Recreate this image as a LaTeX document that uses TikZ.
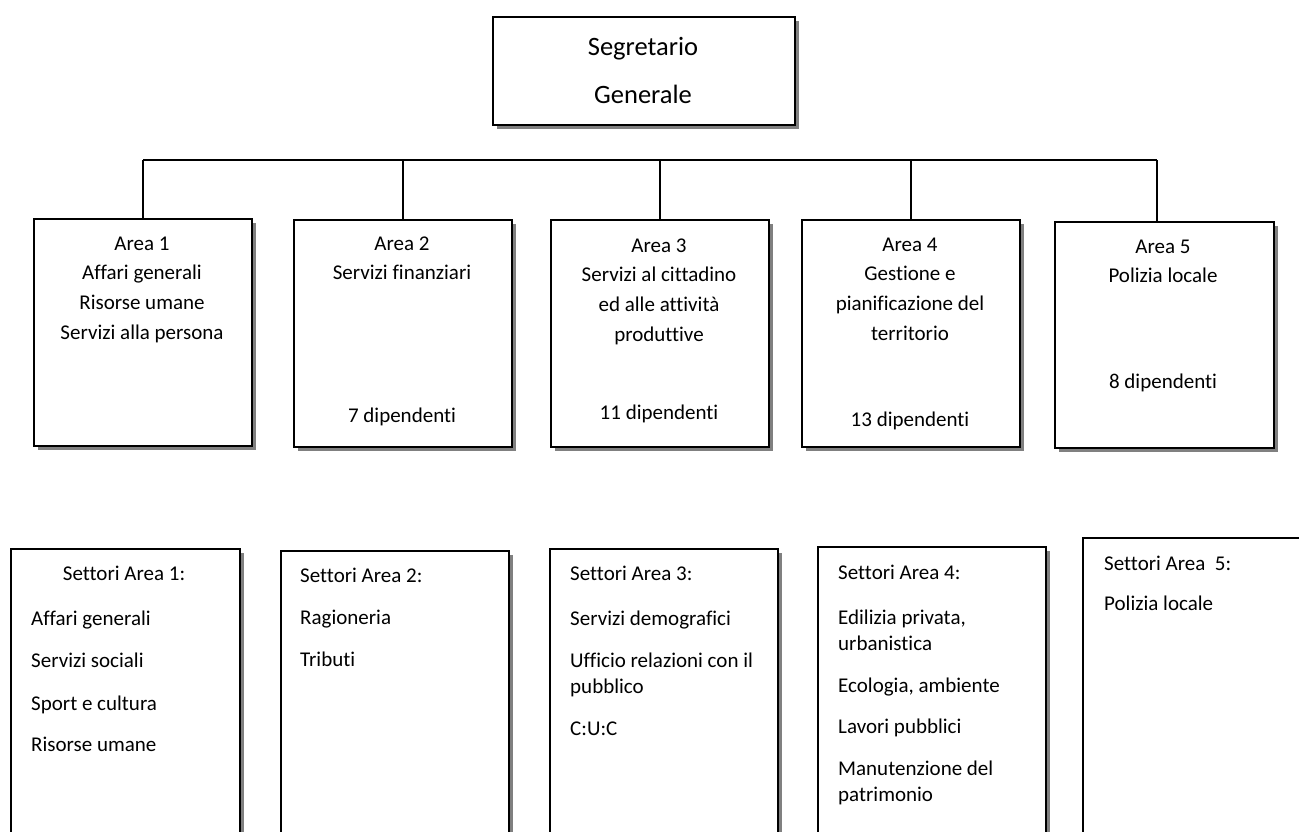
\documentclass[tikz,border=0pt]{standalone}
\usepackage{fontspec}
\setmainfont{Carlito}[Ligatures={NoCommon}]
\usetikzlibrary{shadows}
\newcommand{\flA}{\rule{0pt}{16pt}}
\newcommand{\flB}{\rule{0pt}{20pt}}
\begin{document}
\begin{tikzpicture}[x=1pt,y=-1pt,
  box/.style={draw=black, line width=1.8pt, fill=white, rectangle, inner sep=0pt,
    anchor=north west,
    drop shadow={shadow xshift=4pt, shadow yshift=-4pt, fill=black!50, opacity=1}},
  conn/.style={draw=black, line width=1.6pt},
  txt/.style={inner sep=0pt, font=\fontsize{21}{29.7}\selectfont},
  ctxt/.style={txt, align=center, anchor=north},
  ltxt/.style={inner sep=0pt, font=\fontsize{21}{26}\selectfont, align=left, anchor=north west},
  big/.style={inner sep=0pt, font=\fontsize{26.5}{48}\selectfont, align=center, anchor=north}]
\clip (0,0) rectangle (1299,831);
\fill[white] (0,0) rectangle (1299,831);

% top box
\node[box, minimum width=302pt, minimum height=108pt] (sg) at (492,16) {};
\node[big] (sgt) at (643,35) {\flB Segretario\\Generale};

% area boxes
\node[box, minimum width=218pt, minimum height=227pt] (a1) at (33,218) {};
\node[box, minimum width=218pt, minimum height=227pt] (a2) at (293,219) {};
\node[box, minimum width=218pt, minimum height=227pt] (a3) at (550,219) {};
\node[box, minimum width=218pt, minimum height=227pt] (a4) at (801,219) {};
\node[box, minimum width=219pt, minimum height=226pt] (a5) at (1054,221) {};

% connectors
\coordinate (barL) at (143,160);
\coordinate (barR) at (1157,160);
\coordinate (a1top) at (143,218);
\coordinate (a5top) at (1157,221);
\draw[conn] (barL) -- (barR);
\draw[conn] (a1top) -- (barL);
\draw[conn] (a2.north) -- (a2.north |- barL);
\draw[conn] (a3.north) -- (a3.north |- barL);
\draw[conn] (a4.north) -- (a4.north |- barL);
\draw[conn] (a5top) -- (barR);

% area texts
\node[ctxt] (a1t) at (142,234) {\flA Area 1\\Affari generali\\Risorse umane\\Servizi alla persona};
\node[ctxt] (a2t) at (402,234) {\flA Area 2\\Servizi finanziari};
\node[ctxt] (a2d) at (402,406) {\flA 7 dipendenti};
\node[ctxt] (a3t) at (659,236) {\flA Area 3\\Servizi al cittadino\\ed alle attività\\produttive};
\node[ctxt] (a3d) at (659,403) {\flA 11 dipendenti};
\node[ctxt] (a4t) at (910,235) {\flA Area 4\\Gestione e\\pianificazione del\\territorio};
\node[ctxt] (a4d) at (910,410) {\flA 13 dipendenti};
\node[ctxt] (a5t) at (1163,237) {\flA Area 5\\Polizia locale};
\node[ctxt] (a5d) at (1163,372) {\flA 8 dipendenti};

% sector boxes
\node[box, minimum width=229pt, minimum height=330pt] (s1) at (10,548) {};
\node[box, minimum width=228pt, minimum height=330pt] (s2) at (280,550) {};
\node[box, minimum width=228pt, minimum height=330pt] (s3) at (549,548) {};
\node[box, minimum width=228pt, minimum height=330pt] (s4) at (817,546) {};
\node[box, minimum width=260pt, minimum height=330pt] (s5) at (1082,537) {};

% sector texts
\node[txt, anchor=north] (s1h) at (124,564) {\flA Settori Area 1:};
\node[ltxt] (s1a) at (31,609) {\flA Affari generali};
\node[ltxt] (s1b) at (31,651) {\flA Servizi sociali};
\node[ltxt] (s1c) at (31,694) {\flA Sport e cultura};
\node[ltxt] (s1d) at (31,735) {\flA Risorse umane};

\node[ltxt] (s2h) at (300,566) {\flA Settori Area 2:};
\node[ltxt] (s2a) at (300,608) {\flA Ragioneria};
\node[ltxt] (s2b) at (300,650) {\flA Tributi};

\node[ltxt] (s3h) at (570,564) {\flA Settori Area 3:};
\node[ltxt] (s3a) at (570,609) {\flA Servizi demografici};
\node[ltxt] (s3b) at (570,651) {\flA Ufficio relazioni con il\\pubblico};
\node[ltxt] (s3c) at (570,719) {\flA C:U:C};

\node[ltxt] (s4h) at (838,563) {\flA Settori Area 4:};
\node[ltxt] (s4a) at (838,608) {\flA Edilizia privata,\\urbanistica};
\node[ltxt] (s4b) at (838,676) {\flA Ecologia, ambiente};
\node[ltxt] (s4c) at (838,717) {\flA Lavori pubblici};
\node[ltxt] (s4d) at (838,759) {\flA Manutenzione del\\patrimonio};

\node[ltxt] (s5h) at (1104,554) {\flA Settori Area~~5:};
\node[ltxt] (s5a) at (1104,594) {\flA Polizia locale};
\end{tikzpicture}
\end{document}
